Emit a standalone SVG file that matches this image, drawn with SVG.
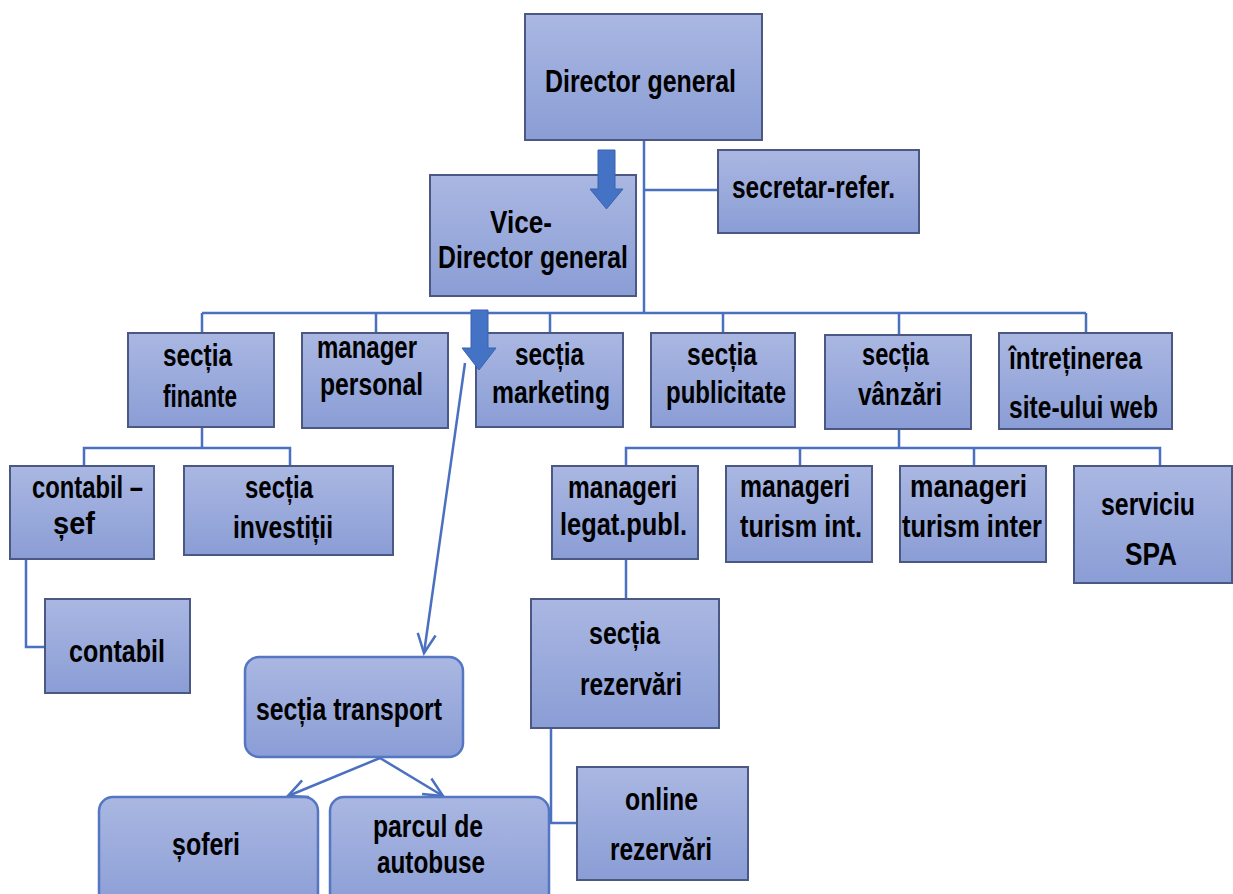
<svg xmlns="http://www.w3.org/2000/svg" width="1233" height="894" viewBox="0 0 1233 894">
<defs>
<linearGradient id="g" x1="0" y1="0" x2="0" y2="1">
<stop offset="0" stop-color="#aab7e2"/>
<stop offset="1" stop-color="#8a9dd5"/>
</linearGradient>
<marker id="ah" markerUnits="userSpaceOnUse" markerWidth="24" markerHeight="24" viewBox="0 0 24 24" refX="21" refY="12" orient="auto">
<path d="M2,3 L21,12 L2,21" fill="none" stroke="#4a70bf" stroke-width="2.5"/>
</marker>
<style>
.box{fill:url(#g);stroke:#4b5884;stroke-width:2}
.rbox{fill:url(#g);stroke:#5576c2;stroke-width:2.5}
.t{font-family:"Liberation Sans",Arial,sans-serif;font-weight:bold;font-size:32px;fill:#000;text-anchor:start}
.c{fill:none;stroke:#4a70bf;stroke-width:2.5}
.big{fill:#4472c4;stroke:#3a63ad;stroke-width:1}
</style>
</defs>
<rect width="1233" height="894" fill="#ffffff"/>

<g id="connectors">
<line class="c" x1="644" y1="140" x2="644" y2="313" stroke-width="3.5"/>
<line class="c" x1="644" y1="190" x2="718" y2="190"/>
<line class="c" x1="202" y1="313" x2="1086" y2="313" stroke-width="3"/>
<path class="c" d="M202,313 V333 M376,313 V333 M550,313 V333 M723,313 V333 M899,313 V335 M1086,313 V333"/>
<path class="c" d="M202,427 V448 M84,466 V448 H290 V466"/>
<path class="c" d="M26,559 V647 H45"/>
<path class="c" d="M899,429 V448 M626,466 V448 H1160 V466 M800,448 V466 M974,448 V466"/>
<path class="c" d="M626,559 V599"/>
<path class="c" d="M551,728 V823 H577"/>
<line class="c" x1="465" y1="363" x2="424" y2="653" marker-end="url(#ah)"/>
<line class="c" x1="380" y1="758" x2="288" y2="796" marker-end="url(#ah)"/>
<line class="c" x1="380" y1="758" x2="443" y2="796" marker-end="url(#ah)"/>
</g>

<g id="n-dg"><rect class="box" x="525" y="14" width="237" height="126"/>
<text class="t" font-size="35" x="545" y="92" textLength="191" lengthAdjust="spacingAndGlyphs">Director general</text></g>

<g id="n-vdg"><rect class="box" x="430" y="175" width="206" height="121"/>
<text class="t" font-size="33" x="490" y="233" textLength="62" lengthAdjust="spacingAndGlyphs">Vice-</text>
<text class="t" font-size="33" x="438" y="268" textLength="190" lengthAdjust="spacingAndGlyphs">Director general</text></g>

<g id="arrow1"><path class="big" d="M598,150 H615 V189 H623 L606.5,209 L590,189 H598 Z"/></g>

<g id="n-sec"><rect class="box" x="718" y="150" width="201" height="83"/>
<text class="t" x="732" y="198" textLength="163" lengthAdjust="spacingAndGlyphs">secretar-refer.</text></g>

<g id="n-finante"><rect class="box" x="128" y="333" width="146" height="94"/>
<text class="t" x="163" y="366" textLength="69" lengthAdjust="spacingAndGlyphs">secția</text>
<text class="t" x="163" y="407" textLength="74" lengthAdjust="spacingAndGlyphs">finante</text></g>

<g id="n-manager"><rect class="box" x="302" y="333" width="146" height="95"/>
<text class="t" x="317" y="358" textLength="100" lengthAdjust="spacingAndGlyphs">manager</text>
<text class="t" x="320" y="395" textLength="103" lengthAdjust="spacingAndGlyphs">personal</text></g>

<g id="n-marketing"><rect class="box" x="476" y="333" width="147" height="94"/>
<text class="t" x="515" y="365" textLength="69" lengthAdjust="spacingAndGlyphs">secția</text>
<text class="t" x="492" y="403" textLength="118" lengthAdjust="spacingAndGlyphs">marketing</text></g>

<g id="arrow2"><path class="big" d="M471,310 H488 V348 H496 L479,370 L462,348 H471 Z"/></g>

<g id="n-publicitate"><rect class="box" x="651" y="333" width="144" height="94"/>
<text class="t" x="687" y="365" textLength="70" lengthAdjust="spacingAndGlyphs">secția</text>
<text class="t" x="666" y="403" textLength="120" lengthAdjust="spacingAndGlyphs">publicitate</text></g>

<g id="n-vanzari"><rect class="box" x="825" y="335" width="146" height="94"/>
<text class="t" x="862" y="365" textLength="67" lengthAdjust="spacingAndGlyphs">secția</text>
<text class="t" x="858" y="405" textLength="84" lengthAdjust="spacingAndGlyphs">vânzări</text></g>

<g id="n-web"><rect class="box" x="999" y="333" width="173" height="96"/>
<text class="t" x="1009" y="369" textLength="133" lengthAdjust="spacingAndGlyphs">întreținerea</text>
<text class="t" x="1009" y="418" textLength="149" lengthAdjust="spacingAndGlyphs">site-ului web</text></g>

<g id="n-contabilsef"><rect class="box" x="10" y="466" width="144" height="93"/>
<text class="t" x="32" y="498" textLength="111" lengthAdjust="spacingAndGlyphs">contabil –</text>
<text class="t" x="53" y="534" textLength="42" lengthAdjust="spacingAndGlyphs">șef</text></g>

<g id="n-investitii"><rect class="box" x="184" y="466" width="209" height="89"/>
<text class="t" x="245" y="498" textLength="68" lengthAdjust="spacingAndGlyphs">secția</text>
<text class="t" x="233" y="538" textLength="100" lengthAdjust="spacingAndGlyphs">investiții</text></g>

<g id="n-legat"><rect class="box" x="552" y="466" width="146" height="93"/>
<text class="t" x="568" y="498" textLength="109" lengthAdjust="spacingAndGlyphs">manageri</text>
<text class="t" x="560" y="535" textLength="127" lengthAdjust="spacingAndGlyphs">legat.publ.</text></g>

<g id="n-turismint"><rect class="box" x="726" y="466" width="146" height="96"/>
<text class="t" x="740" y="497" textLength="110" lengthAdjust="spacingAndGlyphs">manageri</text>
<text class="t" x="740" y="537" textLength="122" lengthAdjust="spacingAndGlyphs">turism int.</text></g>

<g id="n-turisminter"><rect class="box" x="900" y="466" width="146" height="96"/>
<text class="t" x="910" y="497" textLength="117" lengthAdjust="spacingAndGlyphs">manageri</text>
<text class="t" x="902" y="537" textLength="140" lengthAdjust="spacingAndGlyphs">turism inter</text></g>

<g id="n-spa"><rect class="box" x="1074" y="466" width="158" height="117"/>
<text class="t" x="1101" y="515" textLength="94" lengthAdjust="spacingAndGlyphs">serviciu</text>
<text class="t" x="1125" y="565" textLength="52" lengthAdjust="spacingAndGlyphs">SPA</text></g>

<g id="n-contabil"><rect class="box" x="45" y="599" width="145" height="94"/>
<text class="t" x="69" y="662" textLength="96" lengthAdjust="spacingAndGlyphs">contabil</text></g>

<g id="n-rezervari"><rect class="box" x="531" y="599" width="188" height="129"/>
<text class="t" x="589" y="644" textLength="71" lengthAdjust="spacingAndGlyphs">secția</text>
<text class="t" x="580" y="695" textLength="102" lengthAdjust="spacingAndGlyphs">rezervări</text></g>

<g id="n-transport"><rect class="rbox" x="245" y="657" width="218" height="100" rx="14"/>
<text class="t" x="256" y="720" textLength="186" lengthAdjust="spacingAndGlyphs">secția transport</text></g>

<g id="n-online"><rect class="box" x="577" y="767" width="171" height="113"/>
<text class="t" x="625" y="810" textLength="73" lengthAdjust="spacingAndGlyphs">online</text>
<text class="t" x="610" y="860" textLength="102" lengthAdjust="spacingAndGlyphs">rezervări</text></g>

<g id="n-soferi"><rect class="rbox" x="99" y="797" width="219" height="115" rx="14"/>
<text class="t" x="172" y="855" textLength="68" lengthAdjust="spacingAndGlyphs">șoferi</text></g>

<g id="n-parcul"><rect class="rbox" x="330" y="797" width="219" height="115" rx="14"/>
<text class="t" x="373" y="837" textLength="110" lengthAdjust="spacingAndGlyphs">parcul de</text>
<text class="t" x="377" y="873" textLength="108" lengthAdjust="spacingAndGlyphs">autobuse</text></g>
</svg>
